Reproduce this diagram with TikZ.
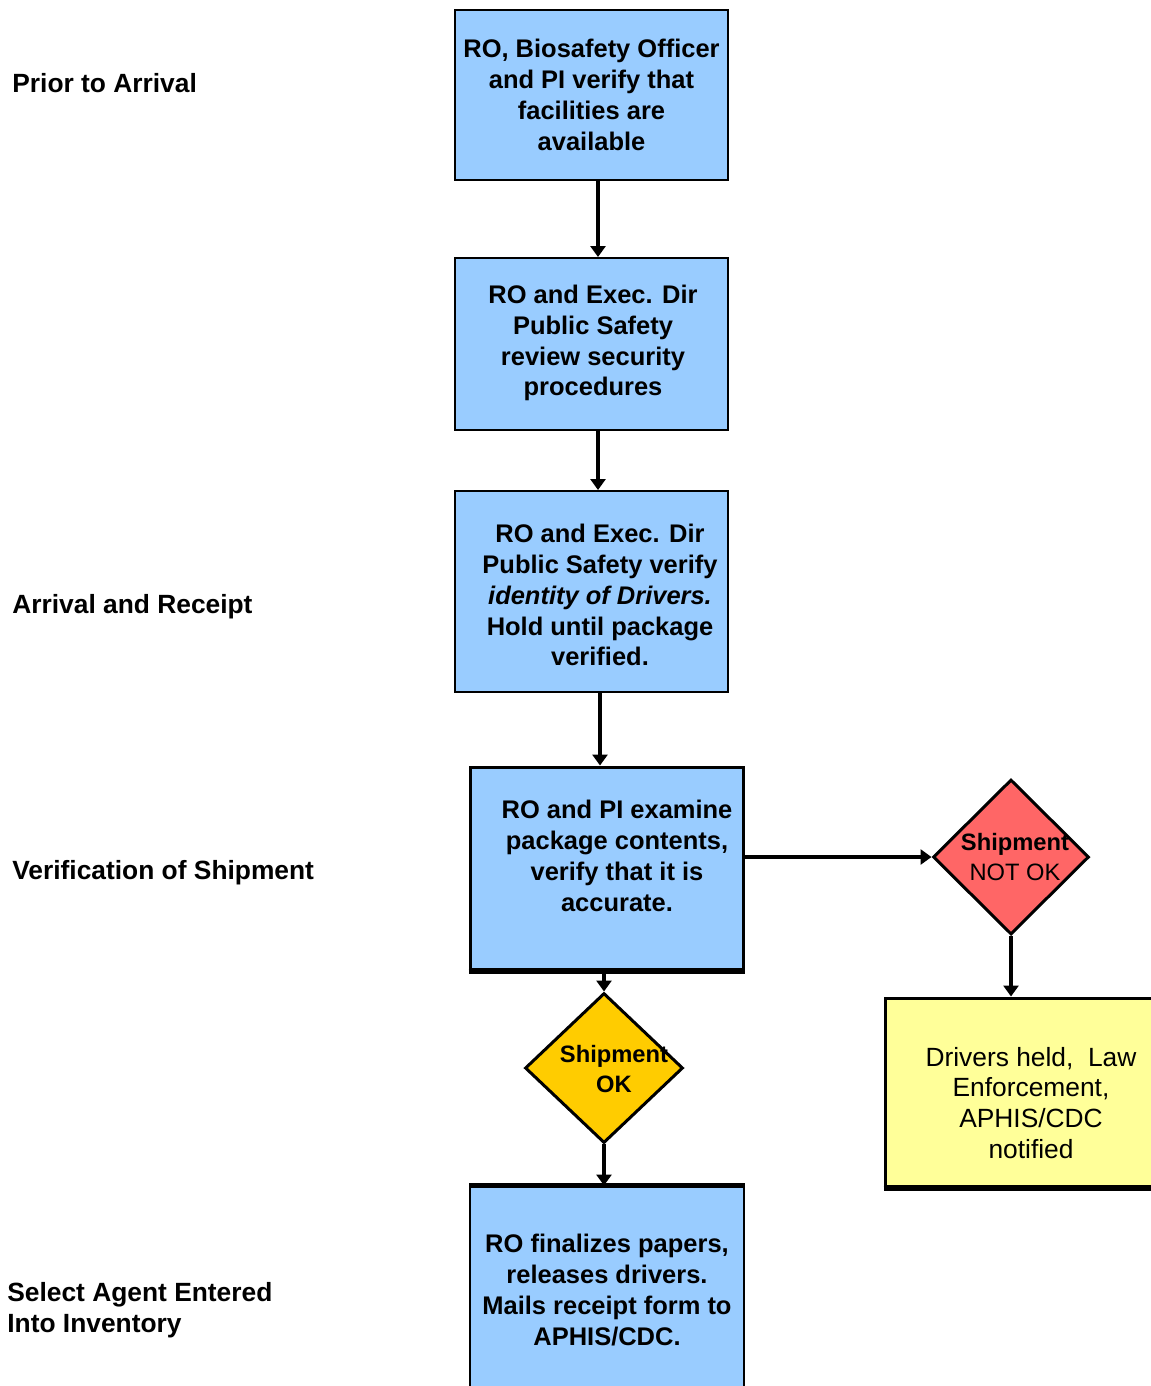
\documentclass[tikz,border=0pt]{standalone}
\usepackage{fontspec}
\setmainfont{Liberation Sans}
\usetikzlibrary{shapes.geometric,arrows.meta}
\definecolor{boxblue}{HTML}{99CCFF}
\definecolor{dred}{HTML}{FF6666}
\definecolor{dyel}{HTML}{FFCC00}
\definecolor{lyel}{HTML}{FFFF99}
\begin{document}
\begin{tikzpicture}[x=0.02cm,y=-0.02cm,
  box/.style={draw=black, line width=0.04cm, fill=boxblue, inner sep=0, minimum width=5.46cm},
  btxt/.style={font=\fontsize{14.5}{17.6}\selectfont\bfseries, align=center, inner sep=0},
  ytxt/.style={font=\fontsize{15}{17.6}\selectfont, align=center, inner sep=0},
  dtxt/.style={font=\fontsize{13.5}{17}\selectfont, align=center, inner sep=0},
  lab/.style={font=\fontsize{15}{17.6}\selectfont\bfseries, align=left, anchor=west, inner sep=0},
  dia/.style={diamond, draw=black, line width=0.06cm, inner sep=0},
  arr/.style={line width=0.075cm, -{Triangle[length=0.22cm,width=0.3cm]}}
]
\clip (0,0) rectangle (1151,1386);
\fill[white] (0,0) rectangle (1151,1386);

% left labels
\node[lab] (l1) at (12,83) {Prior to Arrival};
\node[lab] (l2) at (12,607) {Arrival and Receipt};
\node[lab] (l3) at (12,873) {Verification of Shipment};
\node[lab] (l4) at (7,1310) {Select Agent Entered\\Into Inventory};

% boxes
\node[box, minimum height=3.40cm] (b1) at (591.5,95) {};
\node[btxt] (t1) at (591.5,95) {RO, Biosafety Officer\\and PI verify that\\facilities are\\available};

\node[box, minimum height=3.44cm] (b2) at (591.5,344) {};
\node[btxt] (t2) at (593,343) {RO and Exec. Dir\\Public Safety\\review security\\procedures};

\node[box, minimum height=4.02cm] (b3) at (591.5,591.5) {};
\node[btxt] (t3) at (600,595) {RO and Exec. Dir\\Public Safety verify\\\textit{identity of Drivers.}\\Hold until package\\verified.};

\node[box, minimum width=5.48cm, minimum height=4.06cm, line width=0.06cm] (b4) at (607,868.5) {};
\draw[line width=0.1cm] (b4.south west) -- (b4.south east);
\node[btxt] (t4) at (617,856) {RO and PI examine\\package contents,\\verify that it is\\accurate.};

% NOT OK diamond
\node[dia, fill=dred, minimum width=3.12cm, minimum height=3.10cm] (d1) at (1011,857) {};
\node[dtxt] (dt1) at (1015,857) {\textbf{Shipment}\\NOT OK};

% OK diamond
\node[dia, fill=dyel, minimum width=3.16cm, minimum height=3.00cm] (d2) at (604,1068) {};
\node[dtxt, font=\fontsize{13.5}{17}\selectfont\bfseries] (dt2) at (614,1069) {Shipment\\OK};

% yellow box
\node[draw=black, line width=0.06cm, fill=lyel, inner sep=0, minimum width=5.84cm, minimum height=3.78cm] (y1) at (1031,1092.5) {};
\draw[line width=0.1cm] (y1.south west) -- (y1.south east);
\node[ytxt] (yt) at (1031,1103) {Drivers held,\ \ Law\\Enforcement,\\APHIS/CDC\\notified};

% final box
\node[box, minimum width=5.48cm, minimum height=4.06cm] (b5) at (607,1288) {};
\draw[line width=0.1cm] (b5.north west) -- (b5.north east);
\node[btxt] (t5) at (607,1290) {RO finalizes papers,\\releases drivers.\\Mails receipt form to\\APHIS/CDC.};

% connectors
\coordinate (c12) at (598,0);
\coordinate (c34) at (600,0);
\draw[arr] (b1.south -| c12) -- (b2.north -| c12);
\draw[arr] (b2.south -| c12) -- (b3.north -| c12);
\draw[arr] (b3.south -| c34) -- (b4.north -| c34);
\draw[arr] (b4.east |- d1.west) -- (d1.west);
\draw[arr] (d1.south) -- (y1.north -| d1.south);
\draw[arr] (b4.south -| d2.north) -- (d2.north);
\draw[arr] (d2.south) -- (b5.north -| d2.south);
\end{tikzpicture}
\end{document}
